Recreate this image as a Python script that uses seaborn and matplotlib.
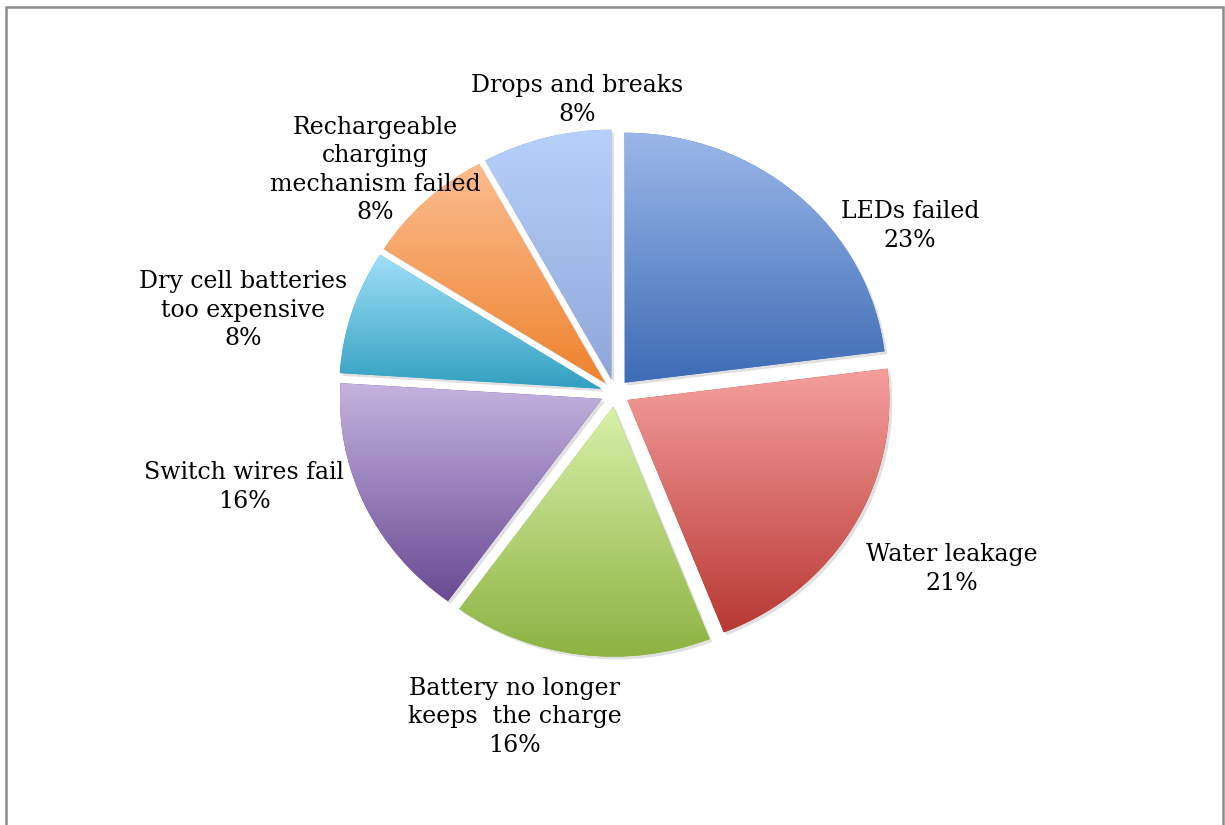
import numpy as np
import matplotlib
matplotlib.use("Agg")
import matplotlib.pyplot as plt
import matplotlib.patheffects as pe
from matplotlib.patches import Rectangle
import seaborn as sns

# datos del grafico
categorias = ["LEDs failed", "Water leakage", "Battery no longer\nkeeps  the charge",
              "Switch wires fail", "Dry cell batteries\ntoo expensive",
              "Rechargeable\ncharging\nmechanism failed", "Drops and breaks"]
porcentajes = [23, 21, 16, 16, 8, 8, 8]

# colores degradado (arriba claro, abajo oscuro)
color_arriba = ["#9BB7E9", "#F5A09E", "#D7F0A8", "#C4B3E0", "#9FDFF8", "#FCBD90", "#B7D0FB"]
color_abajo = ["#3D6CB5", "#B83834", "#8DB342", "#694A93", "#32A0C0", "#EE832E", "#8EA7D9"]

# posiciones de etiquetas (coords de datos)
pos_etiquetas = [(1.126, 0.668), (1.286, -0.704), (-0.382, -1.296), (-1.416, -0.376),
                 (-1.420, 0.332), (-0.916, 0.892), (-0.145, 1.172)]

sns.set_theme(style="white")
plt.rcParams['font.family'] = ['DejaVu Serif']

fig = plt.figure(figsize=(12.25, 8.25), dpi=100)
ax = fig.add_axes([0, 0, 1, 1])

wedges, _ = ax.pie(porcentajes, startangle=90, counterclock=False,
                   explode=[0.055] * len(porcentajes), radius=1.0,
                   colors=color_abajo,
                   wedgeprops=dict(linewidth=0))
ax.set_aspect('auto')
ax.set_xlim(-615 / 262, 610 / 262)
ax.set_ylim((393 - 825) / 250, 393 / 250)

# degradado vertical dentro de cada porcion
for w, c1, c2 in zip(wedges, color_arriba, color_abajo):
    w.set_path_effects([pe.SimplePatchShadow(offset=(2, -2), shadow_rgbFace="#999999", alpha=0.3),
                        pe.Normal()])
    bb = w.get_path().get_extents(w.get_transform() + ax.transData.inverted())
    cmap = sns.blend_palette([c2, c1], as_cmap=True)
    grad = np.linspace(0, 1, 256).reshape(-1, 1)
    im = ax.imshow(grad, cmap=cmap, origin="lower", aspect="auto",
                   extent=[bb.x0, bb.x1, bb.y0, bb.y1], zorder=w.get_zorder() + 0.1)
    im.set_clip_path(w)

ax.set_xlim(-615 / 262, 610 / 262)
ax.set_ylim((393 - 825) / 250, 393 / 250)
ax.axis("off")

for nombre, val, (x, y) in zip(categorias, porcentajes, pos_etiquetas):
    ax.text(x, y, f"{nombre}\n{val}%", ha="center", va="center", fontsize=17,
            color="#000000", linespacing=1.3)

# borde del grafico
fig.patches.append(Rectangle((6 / 1225, -0.02), 1217 / 1225, 1.02 - 7 / 825,
                             transform=fig.transFigure, fill=False,
                             edgecolor="#8C8C8C", linewidth=1.8))

fig.savefig("out.png", dpi=100)
